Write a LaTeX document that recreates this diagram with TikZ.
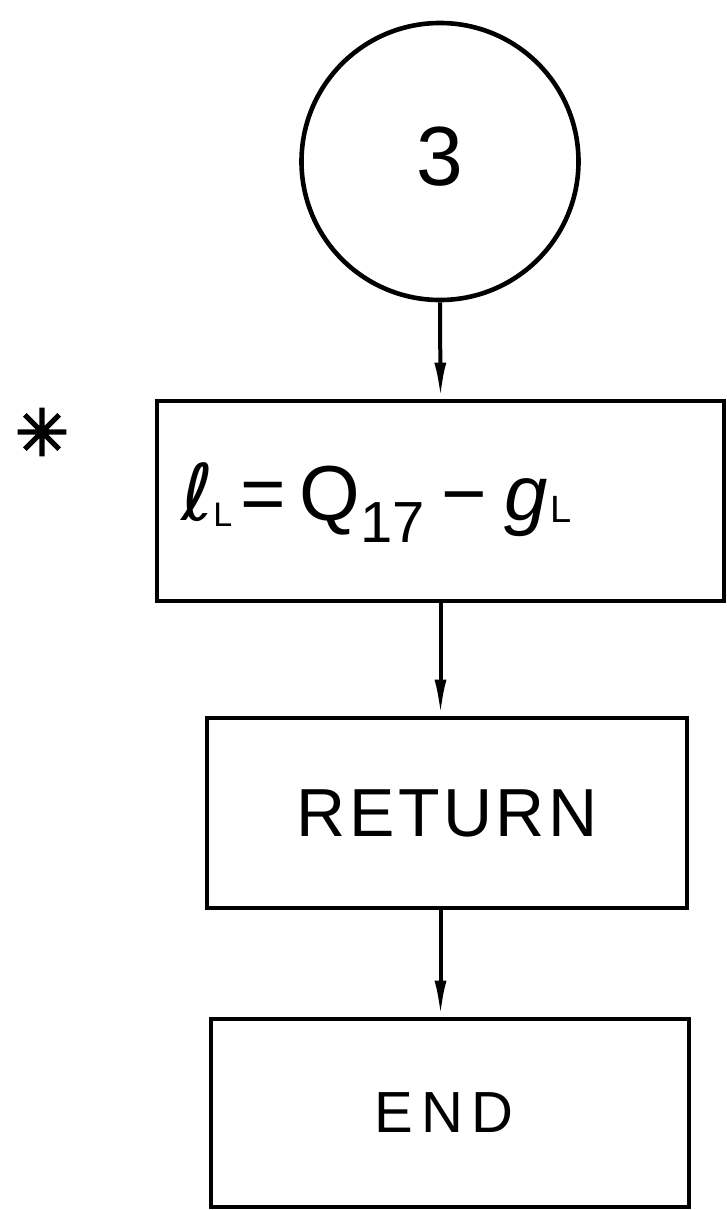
\documentclass[tikz,border=0pt]{standalone}
\usepackage{fontspec}
\setmainfont{Liberation Sans}
\newfontfamily\symfont{DejaVu Sans}
\newfontfamily\starfont[FakeBold=3]{DejaVu Sans}
\usetikzlibrary{arrows.meta}
\tikzset{
  box/.style={draw, line width=4.8pt, rectangle, inner sep=0pt},
  conn/.style={line width=4pt, -{Latex[length=36pt,width=12pt]}},
}
\begin{document}
\begin{tikzpicture}[x=1pt,y=-1pt]
\useasboundingbox (0,0) rectangle (727,1210);
\node[draw, line width=4.6pt, circle, minimum size=277pt, inner sep=0pt] (c3) at (440,161.5) {};
\node[font=\fontsize{84}{84}\selectfont, inner sep=0pt] (t3) at (440,157) {3};
\node[box, minimum width=567pt, minimum height=200pt] (b1) at (440.5,501) {};
\node[anchor=base west, inner sep=0pt, font=\fontsize{78}{78}\selectfont] (f1) at (181,520)
  {{\symfont\itshape ℓ}\raisebox{-6pt}{\fontsize{34}{34}\selectfont L}\hspace{8pt}=\hspace{14pt}Q\raisebox{-22pt}{\fontsize{58}{58}\selectfont 17}\hspace{16pt}−\hspace{18pt}{\itshape g}\hspace{3pt}\raisebox{-2pt}{\fontsize{38}{38}\selectfont L}};
\node[font=\starfont\fontsize{64}{64}\selectfont, inner sep=0pt] (star) at (42,432) {✳};
\node[box, minimum width=480pt, minimum height=190pt, font=\addfontfeature{LetterSpace=5}\fontsize{68}{68}\selectfont] (ret) at (447,813) {RETURN};
\node[box, minimum width=478pt, minimum height=188pt, font=\addfontfeature{LetterSpace=15}\fontsize{58}{58}\selectfont] (endb) at (450,1113) {END\hspace*{12pt}};
\draw[conn] (c3.south) -- (b1.north);
\draw[conn] (b1.south) -- (b1.south |- ret.north);
\draw[conn] (ret.south -| b1.south) -- (b1.south |- endb.north);
\end{tikzpicture}
\end{document}
